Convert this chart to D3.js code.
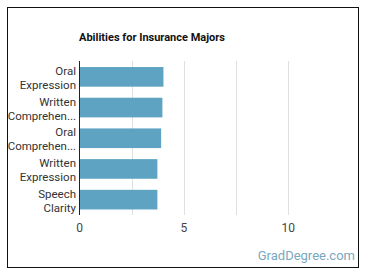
<!DOCTYPE html>
<html><head><meta charset="utf-8">
<script src="https://cdn.jsdelivr.net/npm/d3@7"></script>
<style>
body{margin:0;background:#fff;}
svg{display:block;font-family:Roboto, "Noto Sans", sans-serif;}
</style></head>
<body>
<script>
const categories = [["Oral","Expression"],["Written","Comprehen..."],["Oral","Comprehen..."],["Written","Expression"],["Speech","Clarity"]];
const values = [4.02, 3.97, 3.91, 3.73, 3.73];
const tickValues = [0, 5, 10];
const gridValues = [2.5, 5, 7.5, 10];
const title = "Abilities for Insurance Majors";

const W = 370, H = 278;
const svg = d3.select("body").append("svg").attr("width", W).attr("height", H);

svg.append("rect").attr("x", 7.5).attr("y", 7.5).attr("width", 351).attr("height", 260)
  .attr("fill", "#fff").attr("stroke", "#111").attr("stroke-width", 1);

const x = d3.scaleLinear().domain([0, 12.5]).range([79.5, 340.5]);
const y = d3.scaleBand().domain(d3.range(categories.length)).range([61.5, 215]).paddingInner(0.36).paddingOuter(0.18);

svg.append("g").selectAll("line").data(gridValues).join("line")
  .attr("x1", d => Math.round(x(d)) + 0.5).attr("x2", d => Math.round(x(d)) + 0.5)
  .attr("y1", 61).attr("y2", 215)
  .attr("stroke", "#e0e0e0").attr("stroke-width", 1);

svg.append("g").selectAll("rect").data(values).join("rect")
  .attr("x", x(0)).attr("y", (d, i) => y(i))
  .attr("width", d => x(d) - x(0)).attr("height", y.bandwidth())
  .attr("fill", "#5ea3c2");

svg.append("line").attr("x1", 79.5).attr("x2", 79.5).attr("y1", 61).attr("y2", 215)
  .attr("stroke", "#222").attr("stroke-width", 1);

const lab = svg.append("g").selectAll("text").data(categories).join("text")
  .attr("text-anchor", "end").attr("font-size", 11.5).attr("fill", "#333");
lab.append("tspan").attr("x", 76).attr("y", (d, i) => y(i) + y.bandwidth() / 2 - 2).text(d => d[0]);
lab.append("tspan").attr("x", 76).attr("y", (d, i) => y(i) + y.bandwidth() / 2 + 12).text(d => d[1]);

svg.append("g").selectAll("text").data(tickValues).join("text")
  .attr("x", d => x(d)).attr("y", 232).attr("text-anchor", "middle")
  .attr("font-size", 12).attr("fill", "#444").text(d => d);

svg.append("text").attr("x", 79).attr("y", 41).attr("font-size", 11).attr("font-weight", "bold")
  .attr("fill", "#111").text(title);

svg.append("text").attr("x", 355).attr("y", 260).attr("text-anchor", "end")
  .attr("font-size", 13).attr("fill", "#7aa7bf").text("GradDegree.com");
</script>
</body></html>
